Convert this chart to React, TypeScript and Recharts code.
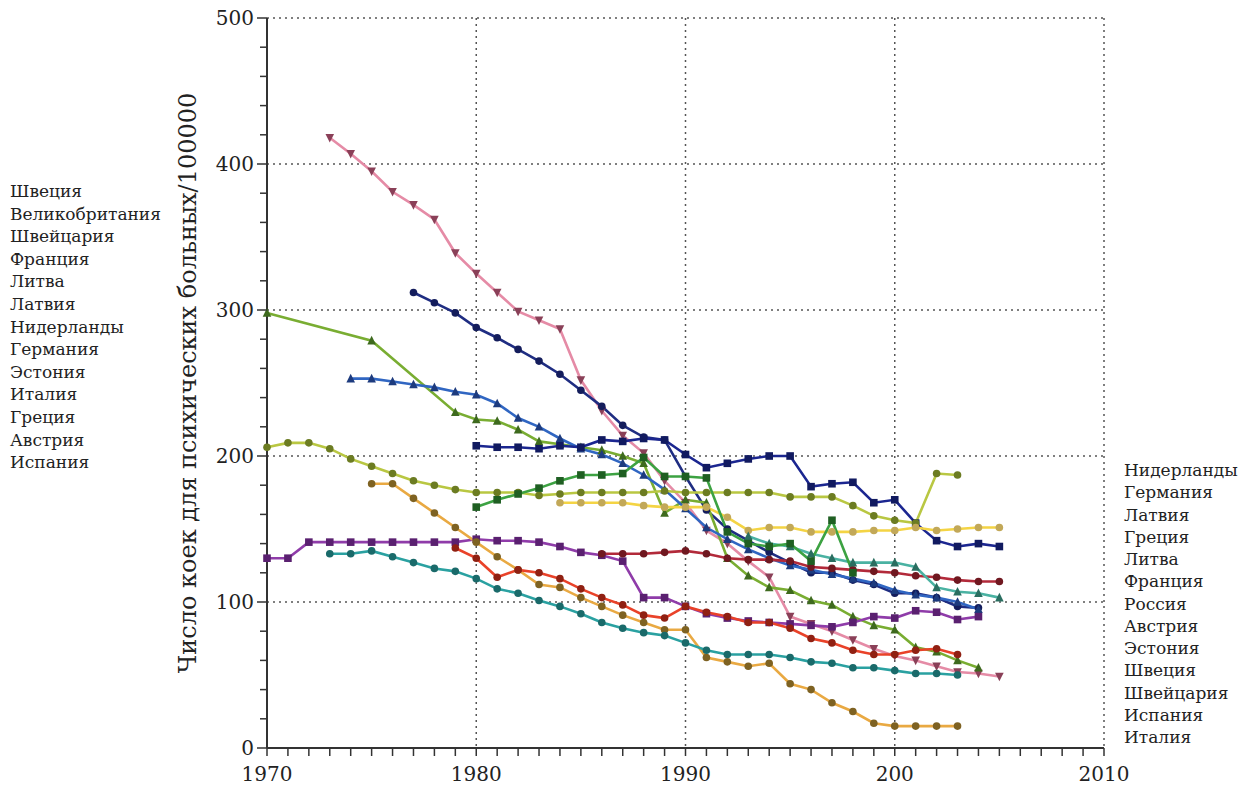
import React from 'react';
import { LineChart, Line, XAxis, YAxis, CartesianGrid } from 'recharts';

// 1970 ... 2005, one value per year, null = no data
const years = [
  1970, 1971, 1972, 1973, 1974, 1975, 1976, 1977, 1978, 1979,
  1980, 1981, 1982, 1983, 1984, 1985, 1986, 1987, 1988, 1989,
  1990, 1991, 1992, 1993, 1994, 1995, 1996, 1997, 1998, 1999,
  2000, 2001, 2002, 2003, 2004, 2005,
];

const sweden = [
  null, null, null, 418, 407, 395, 381, 372, 362, 339,
  325, 312, 299, 293, 287, 252, 231, 214, 202, 183,
  168, 149, 140, 128, 117, 90, 85, 80, 74, 68,
  63, 60, 56, 52, 51, 49,
];
const uk = [
  null, null, null, null, null, null, null, 312, 305, 298,
  288, 281, 273, 265, 256, 245, 234, 221, 213, 211,
  186, 163, 150, 142, 134, 127, 120, 120, 115, 112,
  106, 106, 103, 97, 96, null,
];
const switzerland = [
  298, null, null, null, null, 279, null, null, null, 230,
  225, 224, 218, 210, 208, 206, 204, 200, 195, 161,
  170, 168, 130, 118, 110, 108, 101, 98, 90, 84,
  81, 69, 66, 60, 55, null,
];
const france = [
  null, null, null, null, 253, 253, 251, 249, 247, 244,
  242, 236, 226, 220, 212, 205, 201, 195, 187, 177,
  164, 151, 143, 136, 130, 125, 122, 119, 116, 113,
  108, 105, 103, 100, 95, null,
];
const latvia = [
  null, null, null, null, null, null, null, null, null, null,
  207, 206, 206, 205, 207, 206, 211, 210, 212, 211,
  201, 192, 195, 198, 200, 200, 179, 181, 182, 168,
  170, 154, 142, 138, 140, 138,
];
const netherlands = [
  206, 209, 209, 205, 198, 193, 188, 183, 180, 177,
  175, 175, 175, 173, 174, 175, 175, 175, 175, 176,
  175, 175, 175, 175, 175, 172, 172, 172, 166, 159,
  156, 154, 188, 187, null, null,
];
const germany = [
  null, null, null, null, null, null, null, null, null, null,
  null, null, null, null, 168, 168, 168, 168, 166, 165,
  165, 165, 158, 149, 151, 151, 148, 148, 148, 149,
  149, 151, 149, 150, 151, 151,
];
const russia = [
  130, 130, 141, 141, 141, 141, 141, 141, 141, 141,
  143, 142, 142, 141, 138, 134, 132, 128, 103, 103,
  97, 92, 89, 87, 86, 85, 84, 83, 86, 90,
  89, 94, 93, 88, 90, null,
];
const greece = [
  null, null, null, null, null, null, null, null, null, null,
  null, null, null, null, null, null, 133, 133, 133, 134,
  135, 133, 130, 129, 129, 128, 124, 123, 122, 121,
  120, 118, 117, 115, 114, 114,
];
const italy = [
  null, null, null, null, null, 181, 181, 171, 161, 151,
  141, 131, 122, 112, 110, 103, 97, 91, 86, 81,
  81, 62, 59, 56, 58, 44, 40, 31, 25, 17,
  15, 15, 15, 15, null, null,
];
const spain = [
  null, null, null, 133, 133, 135, 131, 127, 123, 121,
  116, 109, 106, 101, 97, 92, 86, 82, 79, 77,
  72, 67, 64, 64, 64, 62, 59, 58, 55, 55,
  53, 51, 51, 50, null, null,
];
const estonia = [
  null, null, null, null, null, null, null, null, null, 137,
  130, 117, 122, 120, 116, 109, 103, 98, 91, 89,
  97, 93, 90, 86, 86, 82, 75, 72, 67, 64,
  64, 67, 68, 64, null, null,
];
const lithuania = [
  null, null, null, null, null, null, null, null, null, null,
  null, null, null, null, null, null, null, null, null, null,
  null, null, null, 145, 140, 138, 133, 130, 127, 127,
  127, 124, 110, 107, 106, 103,
];
const austria = [
  null, null, null, null, null, null, null, null, null, null,
  165, 170, 174, 178, 183, 187, 187, 188, 199, 186,
  186, 185, 148, 140, 138, 140, 128, 156, 120, null,
  null, null, null, null, null, null,
];

const leftNames = [
  'Швеция', 'Великобритания', 'Швейцария', 'Франция', 'Литва', 'Латвия',
  'Нидерланды', 'Германия', 'Эстония', 'Италия', 'Греция', 'Австрия', 'Испания',
];
const rightNames = [
  'Нидерланды', 'Германия', 'Латвия', 'Греция', 'Литва', 'Франция', 'Россия',
  'Австрия', 'Эстония', 'Швеция', 'Швейцария', 'Испания', 'Италия',
];

const xTicks = [
  1970, 1971, 1972, 1973, 1974, 1975, 1976, 1977, 1978, 1979,
  1980, 1981, 1982, 1983, 1984, 1985, 1986, 1987, 1988, 1989,
  1990, 1991, 1992, 1993, 1994, 1995, 1996, 1997, 1998, 1999,
  2000, 2001, 2002, 2003, 2004, 2005, 2006, 2007, 2008, 2009, 2010,
];
const xLabels: Record<number, string> = { 1970: '1970', 1980: '1980', 1990: '1990', 2000: '200', 2010: '2010' };
const yTicks = [0, 20, 40, 60, 80, 100, 120, 140, 160, 180, 200, 220, 240, 260, 280, 300, 320, 340, 360, 380, 400, 420, 440, 460, 480, 500];

const series = [
  { key: 'sweden', values: sweden, line: '#e58ba6', mark: '#8a4058', shape: 'down' },
  { key: 'uk', values: uk, line: '#1f2d82', mark: '#141d5c', shape: 'circle' },
  { key: 'switzerland', values: switzerland, line: '#79ad32', mark: '#3e6a1e', shape: 'up', connect: true },
  { key: 'france', values: france, line: '#3066c2', mark: '#1d3b7e', shape: 'up' },
  { key: 'latvia', values: latvia, line: '#1b2690', mark: '#111a60', shape: 'square' },
  { key: 'netherlands', values: netherlands, line: '#b9c742', mark: '#6c7c22', shape: 'circle' },
  { key: 'germany', values: germany, line: '#f4d444', mark: '#c2a858', shape: 'circle' },
  { key: 'russia', values: russia, line: '#8f3ca9', mark: '#5a2070', shape: 'square' },
  { key: 'greece', values: greece, line: '#b22a3a', mark: '#701820', shape: 'circle' },
  { key: 'italy', values: italy, line: '#e9a942', mark: '#7e6222', shape: 'circle' },
  { key: 'spain', values: spain, line: '#2aa1a1', mark: '#1a6a6a', shape: 'circle' },
  { key: 'estonia', values: estonia, line: '#e94229', mark: '#902012', shape: 'circle' },
  { key: 'lithuania', values: lithuania, line: '#4ab2a2', mark: '#2a6e60', shape: 'up' },
  { key: 'austria', values: austria, line: '#3ca242', mark: '#1f5f22', shape: 'square' },
];

const data = years.map((year, i) => {
  const row: Record<string, number | null> = { year };
  series.forEach((s) => {
    row[s.key] = s.values[i];
  });
  return row;
});

const FONT = '"DejaVu Serif", "Liberation Serif", serif';

const Marker = ({ cx, cy, shape, fill }: any) => {
  if (cx == null || cy == null || isNaN(cy)) return <g />;
  const r = 3.8;
  if (shape === 'square') {
    return <rect x={cx - r} y={cy - r} width={r * 2} height={r * 2} fill={fill} />;
  }
  if (shape === 'up') {
    return <path d={`M${cx},${cy - r - 1} L${cx + r + 0.5},${cy + r} L${cx - r - 0.5},${cy + r} Z`} fill={fill} />;
  }
  if (shape === 'down') {
    return <path d={`M${cx - r - 0.5},${cy - r} L${cx + r + 0.5},${cy - r} L${cx},${cy + r + 1} Z`} fill={fill} />;
  }
  return <circle cx={cx} cy={cy} r={r} fill={fill} />;
};

const XTick = ({ x, y, payload }: any) => {
  const label = xLabels[payload.value];
  return (
    <g>
      <line x1={x} x2={x} y1={y} y2={y + 8} stroke="#333" strokeWidth={1.5} />
      {label && (
        <text x={x} y={y + 33} textAnchor="middle" style={{ fontFamily: FONT }} fontSize={20} fill="#222">
          {label}
        </text>
      )}
    </g>
  );
};

const YTick = ({ x, y, payload }: any) => {
  const major = payload.value % 100 === 0;
  return (
    <g>
      <line x1={x - (major ? 10 : 7)} x2={x} y1={y} y2={y} stroke="#333" strokeWidth={1.5} />
      {major && (
        <text x={x - 13} y={y} dy="0.35em" textAnchor="end" style={{ fontFamily: FONT }} fontSize={20} fill="#222">
          {payload.value}
        </text>
      )}
    </g>
  );
};

const listStyle = (left: number, top: number, lh: number): React.CSSProperties => ({
  position: 'absolute',
  left,
  top,
  fontFamily: FONT,
  fontSize: 17,
  lineHeight: `${lh}px`,
  color: '#222',
  whiteSpace: 'nowrap',
});

export default function App() {
  return (
    <div style={{ position: 'absolute', left: 0, top: 0, width: 1248, height: 790, background: '#fff', fontFamily: FONT }}>
      <LineChart
        width={1248}
        height={790}
        data={data}
        margin={{ top: 18, right: 144, bottom: 12, left: 207 }}
      >
        <CartesianGrid
          stroke="#555"
          strokeWidth={1.5}
          strokeDasharray="2 4"
          horizontalValues={[100, 200, 300, 400, 500]}
          verticalValues={[1980, 1990, 2000, 2010]}
        />
        <XAxis
          dataKey="year"
          type="number"
          domain={[1970, 2010]}
          ticks={xTicks}
          interval={0}
          height={30}
          tickSize={0}
          tickMargin={0}
          tickLine={false}
          tick={<XTick />}
          axisLine={{ stroke: '#333', strokeWidth: 2 }}
        />
        <YAxis
          type="number"
          domain={[0, 500]}
          ticks={yTicks}
          interval={0}
          width={60}
          tickSize={0}
          tickMargin={0}
          tickLine={false}
          tick={<YTick />}
          axisLine={{ stroke: '#333', strokeWidth: 2 }}
          label={{
            value: 'Число коек для психических больных/100000',
            angle: -90,
            position: 'insideLeft',
            offset: 0,
            dx: -20,
            style: { fontFamily: FONT, fontSize: 24, fill: '#222', textAnchor: 'middle' },
          }}
        />
        {series.map((s) => (
          <Line
            key={s.key}
            dataKey={s.key}
            type="linear"
            stroke={s.line}
            strokeWidth={2.6}
            connectNulls={!!s.connect}
            isAnimationActive={false}
            activeDot={false}
            dot={(p: any) => <Marker key={`${s.key}-${p.index}`} cx={p.cx} cy={p.cy} shape={s.shape} fill={s.mark} />}
          />
        ))}
      </LineChart>
      <div style={listStyle(10, 180, 22.6)}>
        {leftNames.map((n) => (
          <div key={n}>{n}</div>
        ))}
      </div>
      <div style={listStyle(1124, 459, 22.25)}>
        {rightNames.map((n) => (
          <div key={n}>{n}</div>
        ))}
      </div>
    </div>
  );
}
